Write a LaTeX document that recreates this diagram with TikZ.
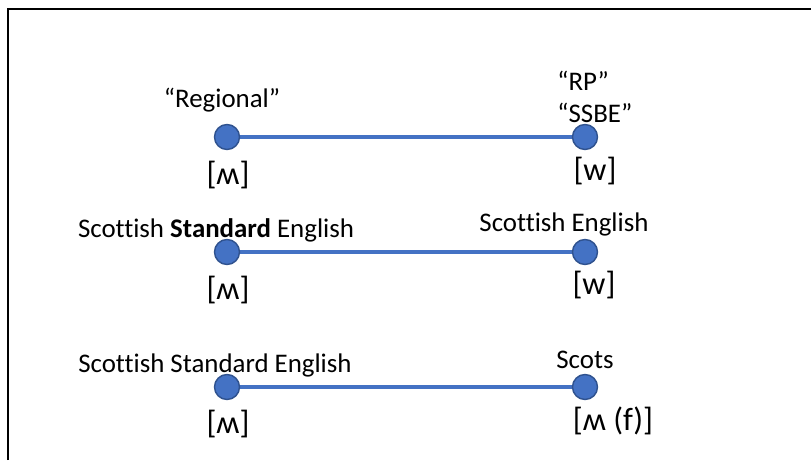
\documentclass[tikz,border=0pt]{standalone}
\usepackage{fontspec}
\setmainfont{Carlito}[Ligatures=NoCommon]
\usepackage{tikz-network}
\definecolor{dotblue}{HTML}{4472C4}
\definecolor{dotrim}{HTML}{2F528F}
\tikzset{
  lect/.style={font=\fontsize{15.3}{18}\selectfont, inner sep=0pt},
  ipa/.style={font=\fontsize{18.4}{22}\selectfont, inner sep=0pt},
}

\begin{document}
\begin{tikzpicture}
\useasboundingbox (0,0) rectangle (16.22,9.2);
\draw[line width=1.6pt] (0.16,0) -- (0.16,9.02) -- (16.22,9.02);
\Vertex[x=4.54, y=6.46, size=0.5, color=dotblue, style={draw=dotrim, line width=0.8pt}]{regional}
\Vertex[x=11.70, y=6.46, size=0.5, color=dotblue, style={draw=dotrim, line width=0.8pt}]{rp}
\Vertex[x=4.54, y=4.16, size=0.5, color=dotblue, style={draw=dotrim, line width=0.8pt}]{sse}
\Vertex[x=11.70, y=4.16, size=0.5, color=dotblue, style={draw=dotrim, line width=0.8pt}]{se}
\Vertex[x=4.54, y=1.46, size=0.5, color=dotblue, style={draw=dotrim, line width=0.8pt}]{ssetwo}
\Vertex[x=11.70, y=1.46, size=0.5, color=dotblue, style={draw=dotrim, line width=0.8pt}]{scots}
\Edge[lw=1.9, color=dotblue](regional)(rp)
\Edge[lw=1.9, color=dotblue](sse)(se)
\Edge[lw=1.9, color=dotblue](ssetwo)(scots)
\node[lect, anchor=base] (regionalname) at (4.44,7.06) {“Regional”};
\node[lect, anchor=base west] (rpname) at (11.14,7.40) {“RP”};
\node[lect, anchor=base west] (ssbename) at (11.14,6.76) {“SSBE”};
\node[ipa] (regionalipa) at (4.56,5.70) {[ʍ]};
\node[ipa] (rpipa) at (11.90,5.78) {[w]};
\node[lect, anchor=base] (ssename) at (4.32,4.46) {Scottish \textbf{Standard} English};
\node[lect, anchor=base] (sename) at (11.28,4.58) {Scottish English};
\node[ipa] (sseipa) at (4.56,3.40) {[ʍ]};
\node[ipa] (seipa) at (11.88,3.50) {[w]};
\node[lect, anchor=base] (ssetwoname) at (4.30,1.76) {Scottish Standard English};
\node[lect, anchor=base] (scotsname) at (11.70,1.84) {Scots};
\node[ipa] (ssetwoipa) at (4.56,0.72) {[ʍ]};
\node[ipa] (scotsipa) at (12.26,0.78) {[ʍ (f)]};
\end{tikzpicture}
\end{document}
